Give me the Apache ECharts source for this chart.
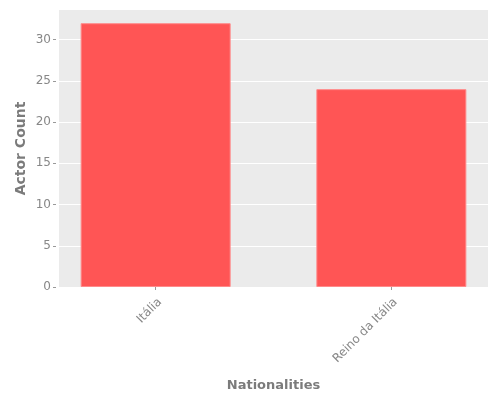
<!DOCTYPE html>
<html>
<head>
<meta charset="utf-8">
<script src="https://cdn.jsdelivr.net/npm/echarts@6/dist/echarts.min.js"></script>
<style>
html,body{margin:0;padding:0;background:#fff;}
#chart{width:500px;height:400px;}
</style>
</head>
<body>
<div id="chart"></div>
<script>
const categories = ['Itália', 'Reino da Itália'];
const actorCounts = [32, 24];
const yTicks = [0, 5, 10, 15, 20, 25, 30];

const positions = categories.map((c, i) => i + 1);
const seriesData = positions.map((p, i) => [p, actorCounts[i]]);

const chart = echarts.init(document.getElementById('chart'), null, {renderer: 'canvas'});
const font = 'DejaVu Sans';
chart.setOption({
  animation: false,
  textStyle: {fontFamily: font},
  grid: {left: 59, right: 12, top: 10, bottom: 113, backgroundColor: '#EBEBEB', show: true, borderWidth: 0,
         containLabel: false, outerBoundsMode: 'none'},
  xAxis: {
    type: 'value',
    min: 0.59,
    max: 2.41,
    offset: 2,
    name: 'Nationalities',
    nameLocation: 'middle',
    nameGap: 90,
    nameMoveOverlap: false,
    nameTextStyle: {color: '#7B7B7B', fontSize: 13, fontWeight: 'bold', fontFamily: font},
    axisLine: {show: false},
    splitLine: {show: false},
    axisTick: {show: true, customValues: positions, length: 3, lineStyle: {color: '#999999'}},
    axisLabel: {
      customValues: positions,
      rotate: 45,
      fontSize: 12,
      color: '#878787',
      margin: 7,
      verticalAlign: 'top',
      fontFamily: font,
      formatter: v => categories[Math.round(v) - 1] || ''
    }
  },
  yAxis: {
    type: 'value',
    min: 0,
    max: 33.6,
    interval: 5,
    offset: 3,
    name: 'Actor Count',
    nameLocation: 'middle',
    nameGap: 28,
    nameMoveOverlap: false,
    nameTextStyle: {color: '#7B7B7B', fontSize: 14, fontWeight: 'bold', fontFamily: font},
    axisLine: {show: false},
    axisTick: {show: true, customValues: yTicks, length: 3, lineStyle: {color: '#999999'}},
    axisLabel: {customValues: yTicks, fontSize: 12, color: '#878787', margin: 5, fontFamily: font},
    splitLine: {show: true, lineStyle: {color: '#FFFFFF', width: 1}}
  },
  series: [{
    type: 'bar',
    data: seriesData,
    barWidth: 150,
    itemStyle: {color: '#FF5555', borderColor: '#FF8A8A', borderWidth: 1}
  }]
});
</script>
</body>
</html>
